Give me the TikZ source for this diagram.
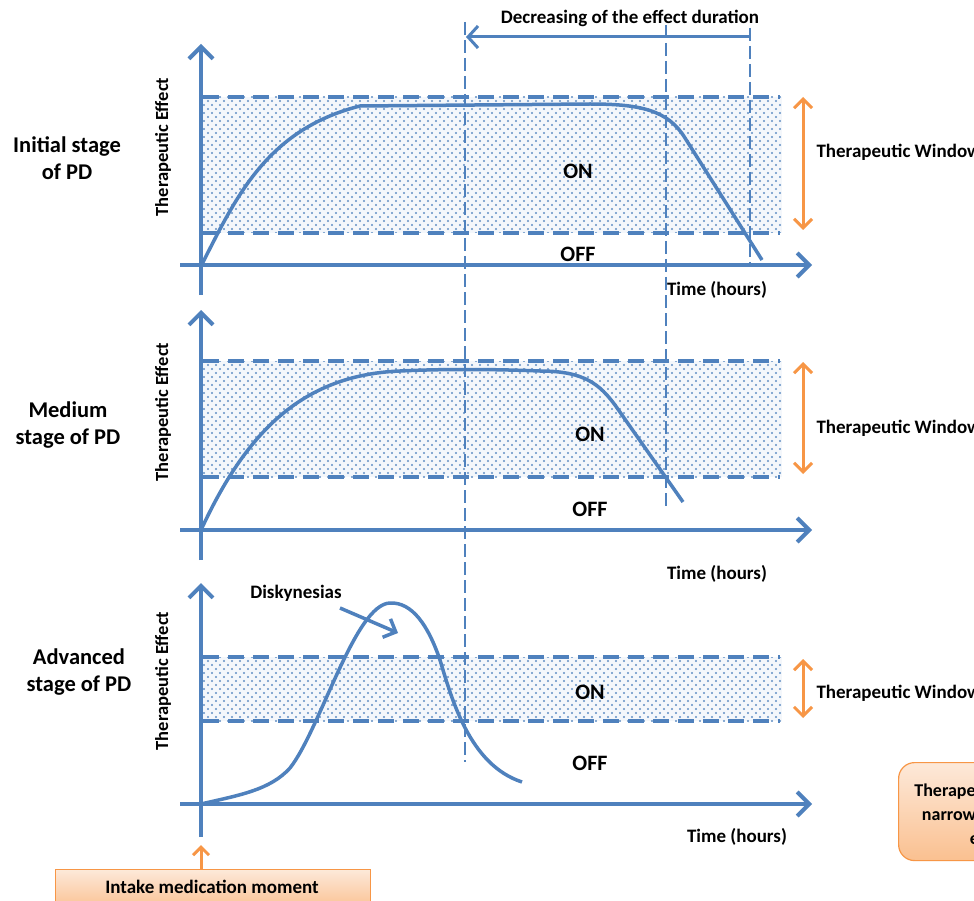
\documentclass[tikz,border=0pt]{standalone}
\usepackage{fontspec}
\setmainfont{Carlito}
\usetikzlibrary{arrows.meta,patterns.meta}

\definecolor{axisblue}{HTML}{4F81BD}
\definecolor{winorange}{HTML}{F79646}
\definecolor{boxlight}{HTML}{FDE9D9}
\definecolor{boxdark}{HTML}{FAC090}

% staggered dot texture for the therapeutic window band
\tikzdeclarepattern{
  name=bluedots,
  type=uncolored,
  bottom left={(-1.5pt,-1.5pt)},
  top right={(6pt,6pt)},
  tile size={(8pt,8pt)},
  code={\fill (0pt,0pt) circle (1.1pt); \fill (4pt,4pt) circle (1.1pt);}
}

\tikzset{
  axisline/.style={draw=axisblue, line width=4pt,
    -{Straight Barb[length=12pt,width=24pt]}},
  bandedge/.style={draw=axisblue, line width=3.5pt, dash pattern=on 16pt off 9pt},
  band/.style={fill=axisblue!6, postaction={pattern=bluedots, pattern color=axisblue!90}},
  marker/.style={draw=axisblue, line width=2.5pt, dash pattern=on 13pt off 5pt},
  response/.style={draw=axisblue, line width=3.5pt, line join=round},
  twin/.style={draw=winorange, line width=3pt,
    {Straight Barb[length=9pt,width=18pt]}-{Straight Barb[length=9pt,width=18pt]}},
  stagelbl/.style={font=\fontsize{22.5}{27}\selectfont\bfseries, align=center},
  txt/.style={font=\fontsize{19}{22}\selectfont\bfseries},
  onoff/.style={font=\fontsize{22}{26}\selectfont\bfseries},
  ylbl/.style={font=\fontsize{18.5}{22}\selectfont\bfseries, rotate=90},
}

\begin{document}
\begin{tikzpicture}[x=1pt,y=-1pt]
\useasboundingbox (0,0) rectangle (974,901);
\clip (0,0) rectangle (974,901);
\fill[white] (0,0) rectangle (974,901);

% ---------- therapeutic window bands ----------
\path[band] (203,97) rectangle (782,233);
\path[band] (203,361) rectangle (782,477);
\path[band] (203,657) rectangle (782,721);

\foreach \yy in {97,233,361,477,657,721}
  \draw[bandedge] (203,\yy) -- (780,\yy);

% ---------- vertical time markers ----------
\coordinate (m1t) at (465,22);  \coordinate (m1b) at (465,762);
\coordinate (m2t) at (666,25);  \coordinate (m2b) at (666,510);
\coordinate (m3t) at (750,28);  \coordinate (m3b) at (750,265);
\draw[marker] (m1t) -- (m1b);
\draw[marker] (m2t) -- (m2b);
\draw[marker] (m3t) -- (m3b);

% shortening of the effect duration
\coordinate (d1) at (750,37);
\coordinate (d2) at (466,37);
\draw[draw=axisblue, line width=3pt, -{Straight Barb[length=10pt,width=22pt]}] (d1) -- (d2);
\node[txt] (decr) at (630,18) {Decreasing of the effect duration};

% ---------- response curves ----------
\draw[response] (201,266) .. controls (235,200) and (265,130) .. (360,106)
  -- (590,104) .. controls (640,104) and (668,110) .. (685,138) -- (762,260);
\draw[response] (201,530) .. controls (245,435) and (300,375) .. (400,371)
  .. controls (440,369) and (490,369) .. (540,371)
  .. controls (585,371) and (600,385) .. (615,405) -- (683,502);
\draw[response] (201,804) .. controls (240,795) and (270,790) .. (290,768)
  .. controls (320,730) and (355,604) .. (390,603)
  .. controls (412,602) and (428,625) .. (440,660)
  .. controls (452,700) and (470,765) .. (522,782);

% ---------- axes ----------
\coordinate (y1b) at (201,295); \coordinate (y1t) at (201,44);
\coordinate (x1l) at (180,265); \coordinate (x1r) at (812,265);
\coordinate (y2b) at (201,560); \coordinate (y2t) at (201,310);
\coordinate (x2l) at (180,530); \coordinate (x2r) at (812,530);
\coordinate (y3b) at (201,837); \coordinate (y3t) at (201,583);
\coordinate (x3l) at (180,804); \coordinate (x3r) at (812,804);
\draw[axisline] (y1b) -- (y1t);
\draw[axisline] (x1l) -- (x1r);
\draw[axisline] (y2b) -- (y2t);
\draw[axisline] (x2l) -- (x2r);
\draw[axisline] (y3b) -- (y3t);
\draw[axisline] (x3l) -- (x3r);

% ---------- window width arrows ----------
\coordinate (w1t) at (803,97);  \coordinate (w1b) at (803,230);
\coordinate (w2t) at (803,362); \coordinate (w2b) at (803,474);
\coordinate (w3t) at (803,659); \coordinate (w3b) at (803,718);
\draw[twin] (w1t) -- (w1b);
\draw[twin] (w2t) -- (w2b);
\draw[twin] (w3t) -- (w3b);
\node[txt, anchor=west] (tw1) at (813,152) {Therapeutic Window};
\node[txt, anchor=west] (tw2) at (813,428) {Therapeutic Window};
\node[txt, anchor=west] (tw3) at (813,693) {Therapeutic Window};

% ---------- labels ----------
\node[stagelbl] (st1) at (67,158) {Initial stage\\of PD};
\node[stagelbl] (st2) at (68,425) {Medium\\stage of PD};
\node[stagelbl] (st3) at (79,672) {Advanced\\stage of PD};

\node[ylbl] (te1) at (163,147) {Therapeutic Effect};
\node[ylbl] (te2) at (163,412) {Therapeutic Effect};
\node[ylbl] (te3) at (163,681) {Therapeutic Effect};

\node[onoff] (on1) at (578,171) {ON};
\node[onoff] (off1) at (578,254) {OFF};
\node[onoff] (on2) at (590,434) {ON};
\node[onoff] (off2) at (590,509) {OFF};
\node[onoff] (on3) at (590,692) {ON};
\node[onoff] (off3) at (590,763) {OFF};

\node[txt] (t1) at (717,290) {Time (hours)};
\node[txt] (t2) at (717,574) {Time (hours)};
\node[txt] (t3) at (737,837) {Time (hours)};

% dyskinesia peak
\node[txt] (disk) at (296,593) {Diskynesias};
\coordinate (dk) at (398,633);
\draw[draw=axisblue, line width=3.5pt, -{Straight Barb[length=10pt,width=20pt]}]
  (340,608) -- (dk);

% ---------- intake moment ----------
\node[draw=winorange, line width=1.2pt, top color=boxlight, bottom color=boxdark,
      minimum width=315pt, minimum height=40pt, anchor=north west,
      inner sep=0pt] (intake) at (55,869) {};
\node[txt] (intaketxt) at (212,887) {Intake medication moment};
\coordinate (ia) at (201,845);
\draw[draw=winorange, line width=3pt, -{Straight Barb[length=8pt,width=16pt]}]
  (intake.north -| ia) -- (ia);

% ---------- summary box ----------
\node[draw=winorange, line width=1.2pt, rounded corners=16pt,
      top color=boxlight, bottom color=boxdark,
      minimum width=180pt, minimum height=98pt, anchor=north west] (sumbox) at (898,762) {};
\node[txt, align=center, font=\fontsize{18}{24}\selectfont\bfseries] (sumtxt) at (991,814)
  {Therapeutic window\\narrowing and the\\effect};
\end{tikzpicture}
\end{document}
